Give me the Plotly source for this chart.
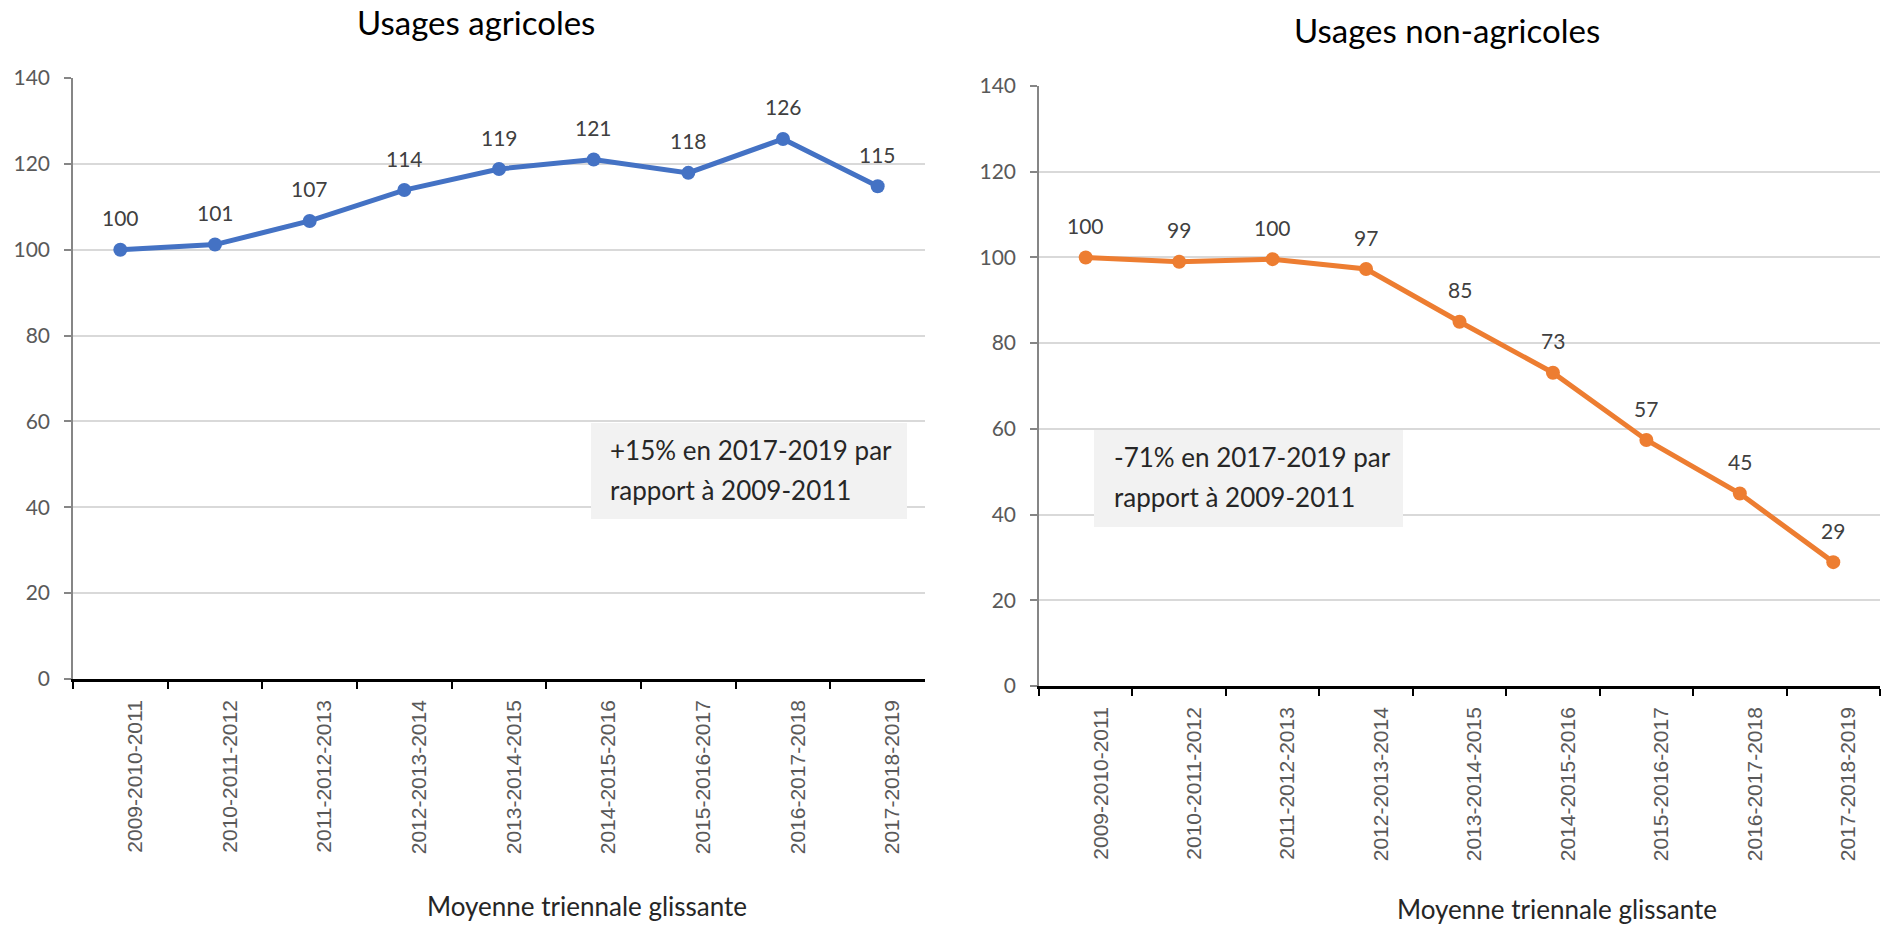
import plotly.graph_objects as go

categories = ["2009-2010-2011", "2010-2011-2012", "2011-2012-2013", "2012-2013-2014",
              "2013-2014-2015", "2014-2015-2016", "2015-2016-2017", "2016-2017-2018",
              "2017-2018-2019"]
agri_values = [100.0, 101.2, 106.7, 113.9, 118.8, 121.0, 117.9, 125.8, 114.8]
nonagri_values = [100.0, 99.0, 99.6, 97.3, 85.0, 73.1, 57.4, 44.9, 28.9]

titles = ["Usages agricoles", "Usages non-agricoles"]
notes = [["+15% en 2017-2019 par", "rapport à 2009-2011"],
         ["-71% en 2017-2019 par", "rapport à 2009-2011"]]
x_title = "Moyenne triennale glissante"
y_ticks = [0, 20, 40, 60, 80, 100, 120, 140]

W, H = 1904, 928
FONT = "Lato, Carlito, Calibri, Open Sans, sans-serif"
BLUE = "#4472C4"
ORANGE = "#ED7D31"

def px_x(p):
    return p / W

def px_y(p):
    return 1 - p / H

fig = go.Figure()

panels = [
    dict(vals=agri_values, color=BLUE, xa="x", ya="y"),
    dict(vals=nonagri_values, color=ORANGE, xa="x2", ya="y2"),
]

for p in panels:
    fig.add_trace(go.Scatter(
        x=categories, y=p["vals"], mode="lines+markers",
        line=dict(color=p["color"], width=5),
        marker=dict(color=p["color"], size=14),
        xaxis=p["xa"], yaxis=p["ya"], showlegend=False, hoverinfo="x+y",
        cliponaxis=False,
    ))
    for c, v in zip(categories, p["vals"]):
        fig.add_annotation(x=c, y=v, xref=p["xa"], yref=p["ya"], text=f"{v:.0f}",
                           showarrow=False, yshift=32,
                           font=dict(family=FONT, size=21, color="#404040"))

axis_common_x = dict(
    type="category", range=[-0.5, 8.5], showline=True, linecolor="#000000", linewidth=2.5,
    ticks="outside", tickson="boundaries", ticklen=7, tickwidth=2, tickcolor="#000000",
    tickangle=-90,
    tickfont=dict(family="Liberation Sans Narrow, Arial Narrow, Liberation Sans, sans-serif",
                  size=21, color="#595959"),
    showgrid=False, zeroline=False, ticklabelshift=15, ticklabelstandoff=10,
    automargin=False,
)
axis_common_y = dict(
    range=[0, 140], tickvals=y_ticks, showline=True, linecolor="#868686", linewidth=1.5,
    ticks="outside", ticklen=7, tickcolor="#868686", tickwidth=1.5,
    tickfont=dict(family=FONT, size=21, color="#595959"),
    showgrid=True, gridcolor="#D9D9D9", gridwidth=2, zeroline=False, ticklabelstandoff=10,
    automargin=False,
)

fig.update_layout(
    width=W, height=H, autosize=False,
    margin=dict(l=0, r=0, t=0, b=0, pad=0),
    paper_bgcolor="white", plot_bgcolor="white",
    xaxis=dict(domain=[px_x(73), px_x(925)], anchor="y", **axis_common_x),
    yaxis=dict(domain=[px_y(679), px_y(78)], anchor="x", **axis_common_y),
    xaxis2=dict(domain=[px_x(1039), px_x(1880)], anchor="y2", **axis_common_x),
    yaxis2=dict(domain=[px_y(686), px_y(86)], anchor="x2", **axis_common_y),
)

# titles
for t, (cx, cy) in zip(titles, [(476, 22), (1447, 30)]):
    fig.add_annotation(x=px_x(cx), y=px_y(cy), xref="paper", yref="paper", text=t,
                       showarrow=False, xanchor="center", yanchor="middle",
                       font=dict(family=FONT, size=33, color="#000000"))

# x-axis titles
for (cx, cy) in [(587, 906), (1557, 909)]:
    fig.add_annotation(x=px_x(cx), y=px_y(cy), xref="paper", yref="paper", text=x_title,
                       showarrow=False, xanchor="center", yanchor="middle",
                       font=dict(family=FONT, size=26, color="#262626"))

# note boxes
boxes = [dict(x0=591, x1=907, y0=423, y1=519, tx=608, l1=450, l2=490),
         dict(x0=1094, x1=1403, y0=430, y1=527, tx=1112, l1=457, l2=497)]
for b, lines in zip(boxes, notes):
    fig.add_shape(type="rect", xref="paper", yref="paper",
                  x0=px_x(b["x0"]), x1=px_x(b["x1"]), y0=px_y(b["y1"]), y1=px_y(b["y0"]),
                  fillcolor="#F2F2F2", line=dict(width=0), layer="above")
    for txt, ly in zip(lines, [b["l1"], b["l2"]]):
        fig.add_annotation(x=px_x(b["tx"]), y=px_y(ly), xref="paper", yref="paper", text=txt,
                           showarrow=False, xanchor="left", yanchor="middle",
                           font=dict(family=FONT, size=26, color="#262626"))

fig.write_html("out.html", config={"displayModeBar": False},
               post_script="document.body.style.margin='0';")
